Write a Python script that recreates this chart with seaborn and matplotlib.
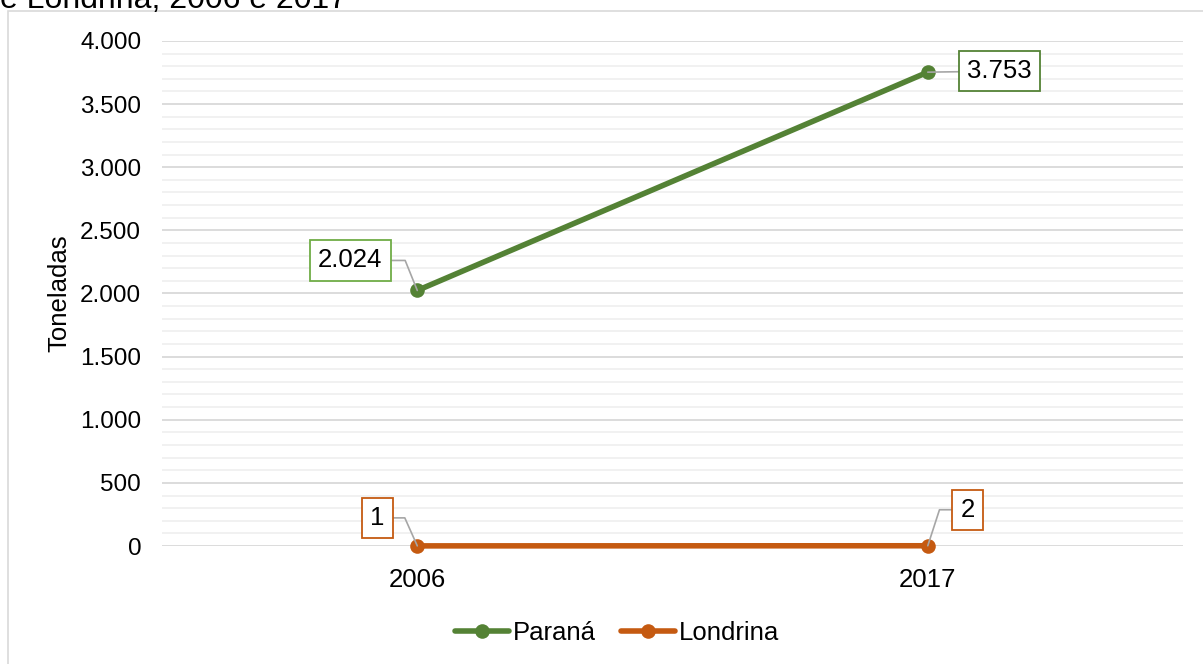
import matplotlib
matplotlib.use("Agg")
import matplotlib.pyplot as plt
from matplotlib.patches import Rectangle
from matplotlib.ticker import MultipleLocator, FuncFormatter
import pandas as pd
import seaborn as sns

# data
years = ["2006", "2017"]
parana = [2024, 3753]
londrina = [1, 2]
series_names = ["Paraná", "Londrina"]

green = "#548235"
green_box = "#70ad47"
orange = "#c55a11"

df = pd.DataFrame({
    "Ano": years * 2,
    "Toneladas": parana + londrina,
    "Local": [series_names[0]] * len(years) + [series_names[1]] * len(years),
})

sns.set_style("white")
plt.rcParams["font.family"] = ["Liberation Sans", "DejaVu Sans"]
plt.rcParams["text.color"] = "black"
plt.rcParams["axes.labelcolor"] = "black"

fig = plt.figure(figsize=(12.03, 6.64), dpi=100)
ax = fig.add_axes([0.1347, 0.1777, 0.8487, 0.7606])

sns.lineplot(data=df, x="Ano", y="Toneladas", hue="Local",
             palette=[green, orange], marker="o", markersize=10.5,
             markeredgewidth=0, linewidth=4, ax=ax, sort=False)
for ln in ax.lines:
    ln.set_clip_on(False)

ax.set_xlim(-0.5, 1.5)
ax.set_ylim(0, 4000)
ax.yaxis.set_major_locator(MultipleLocator(500))
ax.yaxis.set_minor_locator(MultipleLocator(100))
ax.yaxis.set_major_formatter(FuncFormatter(lambda v, p: f"{v:,.0f}".replace(",", ".")))
ax.grid(axis="y", which="major", color="#d9d9d9", linewidth=1.3, zorder=0)
ax.grid(axis="y", which="minor", color="#f0f0f0", linewidth=1.3, zorder=0)
ax.set_axisbelow(True)
for s in ax.spines.values():
    s.set_visible(False)
ax.tick_params(axis="both", which="both", length=0, colors="#000000")
ax.tick_params(axis="y", pad=15, labelsize=17.5)
ax.tick_params(axis="x", pad=16, labelsize=18.5)
ax.set_xlabel("")
ax.set_ylabel("Toneladas", fontsize=18.5, labelpad=6)

# data labels with leader lines
labels = [
    (0, parana[0], (-67, 30), green_box, "angle,angleA=0,angleB=112,rad=0"),
    (1, parana[1], (72, 1), green, "arc3,rad=0"),
    (0, londrina[0], (-40, 28), orange, "angle,angleA=0,angleB=114,rad=0"),
    (1, londrina[1], (40, 36), orange, "angle,angleA=0,angleB=72,rad=0"),
]
for xi, v, off, ec, cs in labels:
    txt = f"{v:,.0f}".replace(",", ".")
    ax.annotate(txt, (xi, v), xytext=off, textcoords="offset pixels",
                ha="center", va="center", fontsize=18.5, color="black",
                bbox=dict(boxstyle="square,pad=0.32", fc="white", ec=ec, lw=1.3),
                arrowprops=dict(arrowstyle="-", color="#a6a6a6", lw=1.2,
                                connectionstyle=cs, shrinkA=0, shrinkB=0),
                zorder=5, annotation_clip=False)

handles, lbls = ax.get_legend_handles_labels()
ax.legend(handles, lbls, loc="center", bbox_to_anchor=(0.513, 0.046),
          bbox_transform=fig.transFigure, ncol=2, frameon=False, fontsize=18.5,
          handlelength=2.1, handletextpad=0.15, columnspacing=1.0,
          labelcolor="black")

# outer chart border and cut title
fig.patches.append(Rectangle((8 / 1203, -0.01), 1.0, 0.9834 + 0.01,
                             transform=fig.transFigure, fill=False,
                             edgecolor="#d9d9d9", linewidth=1.2))
fig.text(0.0, 0.988, "e Londrina, 2006 e 2017", fontsize=23, va="baseline",
         ha="left", color="black")

fig.savefig("out.png", dpi=100)
